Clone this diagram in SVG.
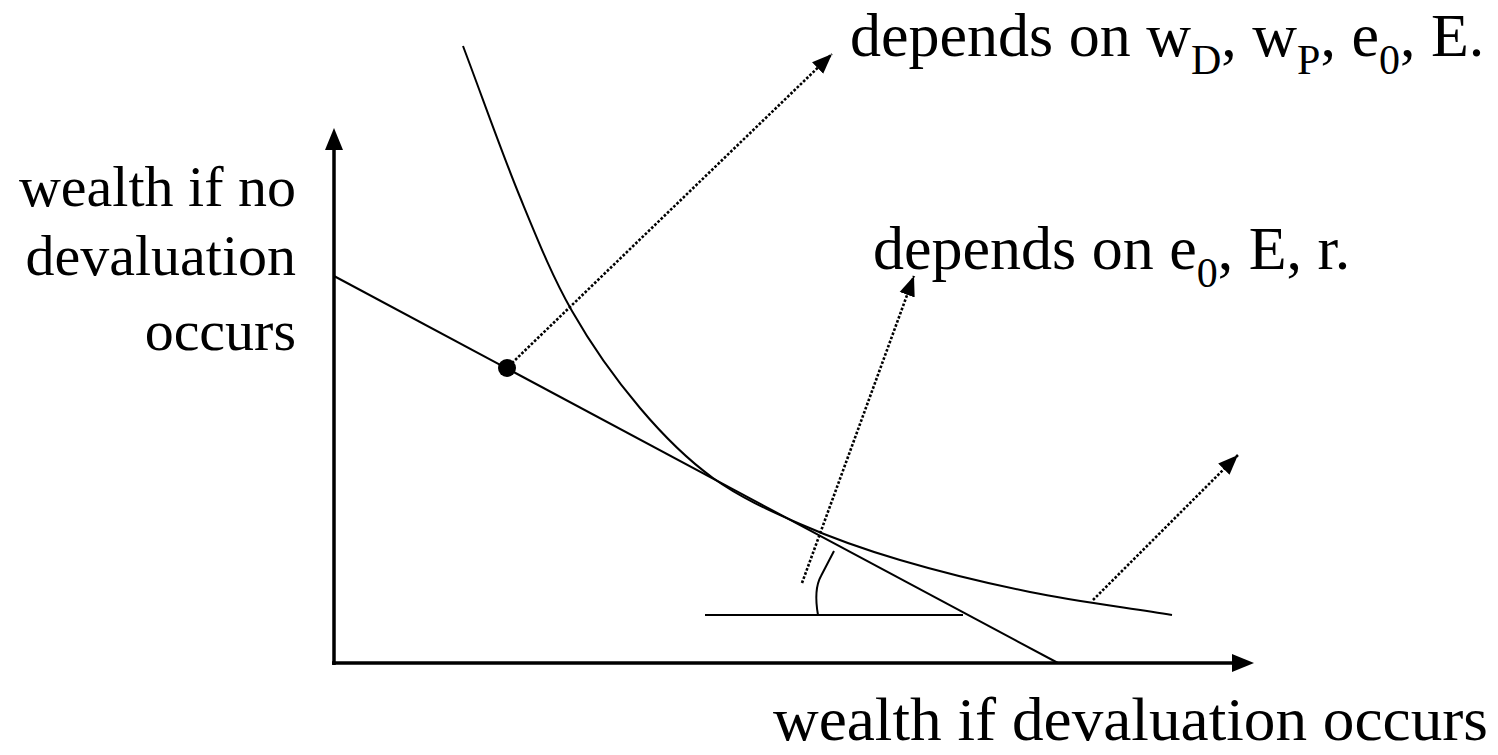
<svg xmlns="http://www.w3.org/2000/svg" width="1498" height="755" viewBox="0 0 1498 755">
<style>
.t{font-family:"Liberation Serif","Times New Roman",serif;fill:#000}
.ln{fill:none;stroke:#000;stroke-width:2}
.ax{fill:none;stroke:#000;stroke-width:3.5}
.dot{fill:none;stroke:#000;stroke-width:2.6;stroke-dasharray:2.6 1.8}
</style>
<defs>
<marker id="ah" markerUnits="userSpaceOnUse" markerWidth="24" markerHeight="18" refX="20" refY="8" orient="auto" viewBox="0 0 24 16">
<path d="M0,0 L20,8 L0,16 Z" fill="#000"/>
</marker>
</defs>
<g id="axes">
<line class="ax" x1="334" y1="665" x2="334" y2="148"/>
<path d="M334,128 L343,150 L325,150 Z" fill="#000"/>
<line class="ax" x1="332" y1="663" x2="1234" y2="663"/>
<path d="M1254,663 L1232,654 L1232,672 Z" fill="#000"/>
</g>
<g id="budget-line">
<line class="ln" x1="334" y1="276" x2="1058" y2="663"/>
</g>
<g id="indifference-curve">
<path class="ln" d="M463,46 C482,96.3 501.8,152.8 520,197 C538.2,241.2 552,275.8 572,311 C592,346.2 616.5,380.2 640,408 C663.5,435.8 686.3,458.7 713,478 C739.7,497.3 768.8,510.3 800,524 C831.2,537.7 861.7,548.7 900,560 C938.3,571.3 984.7,582.8 1030,592 C1075.3,601.2 1124.7,607.3 1172,615"/>
</g>
<g id="angle">
<line class="ln" x1="705" y1="615" x2="963" y2="615"/>
<path class="ln" d="M818,615 C815,598 816,585 821,576 L834,551"/>
</g>
<g id="point">
<circle cx="507" cy="368" r="9" fill="#000"/>
</g>
<g id="connectors">
<line class="dot" x1="512" y1="363" x2="832" y2="54" marker-end="url(#ah)"/>
<line class="dot" x1="802" y1="583" x2="914" y2="276" marker-end="url(#ah)"/>
<line class="dot" x1="1093" y1="600" x2="1238" y2="455" marker-end="url(#ah)"/>
</g>
<g id="label-top">
<text class="t" x="850" y="56" font-size="62">depends on w<tspan font-size="42" dy="18">D</tspan><tspan dy="-18">, w</tspan><tspan font-size="42" dy="18">P</tspan><tspan dy="-18">, e</tspan><tspan font-size="42" dy="18">0</tspan><tspan dy="-18">, E.</tspan></text>
</g>
<g id="label-mid">
<text class="t" x="873" y="269" font-size="62">depends on e<tspan font-size="42" dy="18">0</tspan><tspan dy="-18">, E, r.</tspan></text>
</g>
<g id="label-y">
<text class="t" x="296" y="206" font-size="58" text-anchor="end">wealth if no</text>
<text class="t" x="296" y="275" font-size="58" text-anchor="end">devaluation</text>
<text class="t" x="296" y="350" font-size="58" text-anchor="end">occurs</text>
</g>
<g id="label-x">
<text class="t" x="773" y="740" font-size="62" textLength="715" lengthAdjust="spacingAndGlyphs">wealth if devaluation occurs</text>
</g>
</svg>
